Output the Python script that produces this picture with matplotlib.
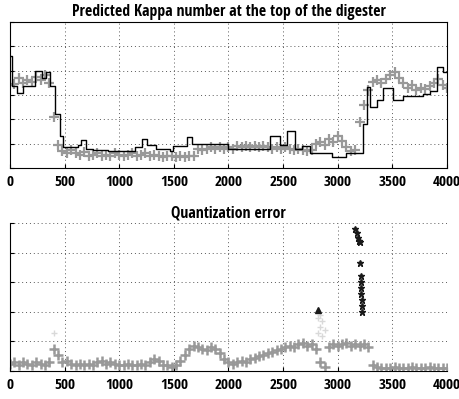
import matplotlib
matplotlib.use("Agg")
import matplotlib.pyplot as plt

# sample index of the predicted / error series (every 40 samples)
samples = list(range(0, 4001, 40))

# predicted kappa (top plot, grey markers), in grid units
kappa_pred = [3.4, 3.45, 3.7, 3.5, 3.6, 3.55, 3.75, 3.6, 3.8, 3.5,
              2.1, 0.95, 0.7, 0.6, 0.75, 0.6, 0.55, 0.65, 0.5, 0.55,
              0.6, 0.5, 0.55, 0.5, 0.6, 0.55, 0.5, 0.55, 0.6, 0.5,
              0.55, 0.6, 0.5, 0.55, 0.5, 0.45, 0.5, 0.5, 0.45, 0.5,
              0.45, 0.5, 0.5, 0.8, 0.75, 0.8, 0.85, 0.8, 0.85, 0.8,
              0.85, 0.8, 0.9, 0.85, 0.9, 0.85, 0.9, 0.85, 0.9, 0.85,
              0.8, 0.85, 0.8, 0.85, 0.8, 0.75, 0.8, 0.75, 0.7, 0.75,
              1.0, 1.05, 0.95, 1.2, 1.05, 1.3, 1.1, 0.85, 0.7, 0.75,
              1.9, 2.6, 3.2, 3.55, 3.6, 3.5, 3.65, 3.8, 3.95, 3.7,
              3.5, 3.3, 3.4, 3.2, 3.3, 3.25, 3.35, 3.5, 3.65, 3.4,
              3.3]

# measured kappa (top plot, black step line)
meas_x = [0, 15, 60, 120, 230, 290, 330, 370, 412, 458, 488, 620, 650, 695,
          760, 900, 1145, 1208, 1255, 1340, 1465, 1495, 1616, 1662, 2000,
          2380, 2472, 2533, 2610, 2670, 2750, 2950, 3080, 3234, 3265, 3295,
          3356, 3417, 3509, 3600, 3783, 3844, 3906, 3966, 4000]
meas_y = [4.6, 3.35, 3.1, 3.35, 4.0, 3.7, 3.95, 3.35, 2.2, 1.3, 0.87, 0.95,
          1.15, 0.8, 0.75, 0.7, 0.87, 1.18, 0.95, 0.8, 0.7, 0.9, 1.28, 1.0,
          0.8, 1.33, 0.95, 1.5, 0.8, 0.9, 0.6, 0.45, 0.6, 1.82, 3.32, 2.5,
          2.78, 3.3, 2.78, 2.95, 3.05, 3.15, 4.13, 3.93, 3.93]

# quantization error (bottom plot, grey markers)
q_err = [0.25, 0.3, 0.2, 0.3, 0.25, 0.2, 0.3, 0.25, 0.2, 0.3,
         0.75, 0.55, 0.3, 0.35, 0.25, 0.2, 0.25, 0.2, 0.25, 0.2,
         0.3, 0.35, 0.25, 0.3, 0.25, 0.2, 0.2, 0.25, 0.2, 0.2,
         0.25, 0.2, 0.3, 0.4, 0.35, 0.2, 0.2, 0.15, 0.2, 0.35,
         0.55, 0.75, 0.85, 0.8, 0.75, 0.7, 0.8, 0.75, 0.6, 0.4,
         0.3, 0.25, 0.3, 0.35, 0.3, 0.4, 0.45, 0.5, 0.55, 0.6,
         0.65, 0.7, 0.75, 0.8, 0.85, 0.8, 0.9, 0.95, 0.85, 0.9,
         0.75, 0.3, 0.15, 0.8, 0.9, 0.85, 0.9, 0.95, 0.85, 0.9,
         0.85, 0.9, 0.8, 0.2, 0.15, 0.12, 0.1, 0.12, 0.15, 0.1,
         0.12, 0.1, 0.15, 0.12, 0.1, 0.12, 0.15, 0.1, 0.12, 0.1,
         0.12]

# outliers in the error plot
spike_x = [3160, 3175, 3185, 3195, 3200, 3205, 3210, 3210, 3215, 3215, 3220, 3220, 3225]
spike_y = [4.8, 4.65, 4.5, 4.4, 4.35, 3.65, 3.2, 3.0, 2.8, 2.6, 2.4, 2.2, 2.0]
pale_x = [400, 2820, 2840, 2860, 2880, 2820, 2860, 2840]
pale_y = [1.3, 1.3, 1.5, 1.7, 1.4, 1.8, 1.2, 1.9]

xticks = [0, 500, 1000, 1500, 2000, 2500, 3000, 3500, 4000]

plt.rcParams["font.family"] = ["Open Sans Condensed", "DejaVu Sans"]
plt.rcParams["font.weight"] = "bold"

fig = plt.figure(figsize=(4.6, 3.99), dpi=100)
ax1 = fig.add_axes([0.0217, 0.579, 0.95, 0.366])
ax2 = fig.add_axes([0.0217, 0.070, 0.95, 0.371])

grid_kw = dict(color="0.35", linestyle=(0, (1, 3)), linewidth=0.7)

# top
ax1.plot(samples, kappa_pred, linestyle="none", marker="+", color="0.6",
         markersize=7, markeredgewidth=1.6)
ax1.plot(meas_x, meas_y, drawstyle="steps-post", color="black", linewidth=1.0)
ax1.set_xlim(0, 4000)
ax1.set_ylim(0, 6)
ax1.set_yticks(range(7))
ax1.set_yticklabels([])
ax1.set_title("Predicted Kappa number at the top of the digester",
              fontsize=11.4, fontweight="bold", pad=4)

# bottom
ax2.plot(samples, q_err, linestyle="none", marker="+", color="0.6",
         markersize=7, markeredgewidth=1.8)
ax2.plot(pale_x, pale_y, linestyle="none", marker="+", color="0.85",
         markersize=5)
ax2.plot(spike_x, spike_y, linestyle="none", marker="*", color="0.1",
         markersize=5)
ax2.plot([2820], [2.05], linestyle="none", marker="^", color="0.1", markersize=4)
ax2.set_xlim(0, 4000)
ax2.set_ylim(0, 5)
ax2.set_yticks(range(6))
ax2.set_yticklabels([])
ax2.spines["top"].set_visible(False)
ax2.spines["right"].set_visible(False)
ax2.set_title("Quantization error", fontsize=11.4, fontweight="bold", pad=4)

for ax in (ax1, ax2):
    ax.set_xticks(xticks)
    ax.set_xticklabels([str(t) for t in xticks], fontsize=11, fontweight="bold")
    ax.grid(True, **grid_kw)
    ax.tick_params(direction="in", length=3, pad=5)

fig.savefig("out.png", dpi=100)
